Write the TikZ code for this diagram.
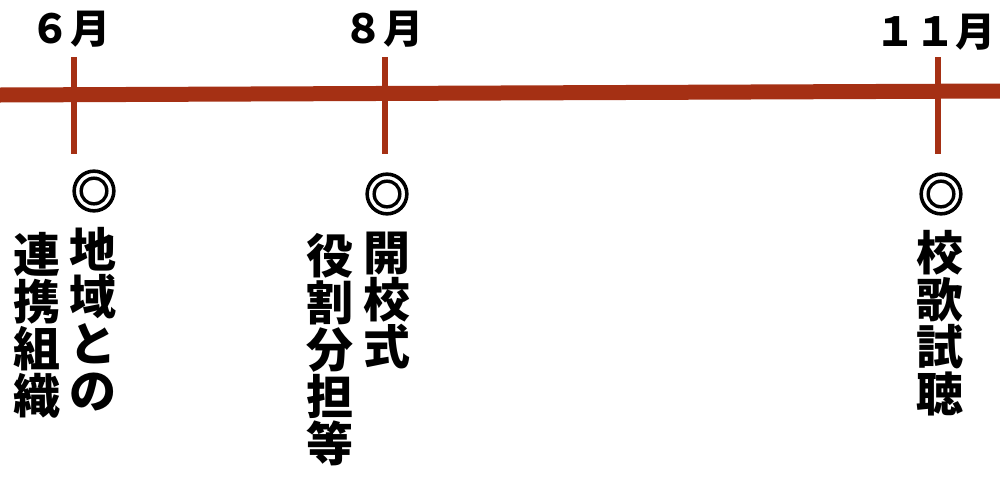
\documentclass[tikz,border=0pt]{standalone}
\usepackage{fontspec}
\setmainfont{Noto Sans CJK JP}
\newfontfamily\markfont{Noto Sans CJK JP}[FakeBold=4]
\usepackage{tikz}
\definecolor{rust}{HTML}{A53014}
\tikzset{
    axisline/.style={draw=rust, line width=7.5pt},
    tickline/.style={draw=rust, line width=3pt},
    monthlabel/.style={inner sep=0pt, font=\bfseries\fontsize{20}{20}\selectfont},
    dmark/.style={inner sep=0pt, font=\markfont\fontsize{23}{23}\selectfont},
    eventtext/.style={inner sep=0pt, anchor=north, align=center,
    	font=\bfseries\fontsize{23.5}{23.5}\selectfont}
}

\begin{document}
\begin{tikzpicture}[x=0.5pt, y=-0.5pt]
	\useasboundingbox (0,0) rectangle (1000,477);
	\coordinate (L) at (0,95);
	\coordinate (R) at (1000,91);
	\draw [axisline] (L) -- (R);
	\coordinate (t6a) at (74,57);  \coordinate (t6b) at (74,154);
	\coordinate (t8a) at (385,57); \coordinate (t8b) at (385,154);
	\coordinate (t11a) at (938,57); \coordinate (t11b) at (938,154);
	\draw [tickline] (t6a) -- (t6b);
	\draw [tickline] (t8a) -- (t8b);
	\draw [tickline] (t11a) -- (t11b);
	\node [monthlabel] (m6) at (70,29) {６月};
	\node [monthlabel] (m8) at (383,29) {８月};
	\node [monthlabel] (m11) at (935,32) {１１月};
	\node [dmark] (d6) at (94,191) {◎};
	\node [dmark] (d8) at (387,194) {◎};
	\node [dmark] (d11) at (941,194) {◎};
	\node [eventtext] (e6a) at (93,227) {地\\域\\と\\の};
	\node [eventtext] (e6b) at (37,232) {連\\携\\組\\織};
	\node [eventtext] (e8a) at (387,232) {開\\校\\式};
	\node [eventtext] (e8b) at (330,233) {役\\割\\分\\担\\等};
	\node [eventtext] (e11) at (940,230) {校\\歌\\試\\聴};
\end{tikzpicture}
\end{document}
